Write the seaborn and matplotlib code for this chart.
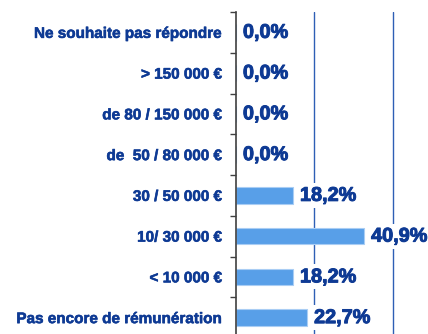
import matplotlib
matplotlib.use("Agg")
import matplotlib.pyplot as plt
import matplotlib.patheffects as pe
from matplotlib.ticker import FixedLocator
from matplotlib.font_manager import FontProperties
import seaborn as sns
import pandas as pd

categories = [
    "Ne souhaite pas répondre",
    "> 150 000 €",
    "de 80 / 150 000 €",
    "de  50 / 80 000 €",
    "30 / 50 000 €",
    "10/ 30 000 €",
    "< 10 000 €",
    "Pas encore de rémunération",
]
values = [0.0, 0.0, 0.0, 0.0, 18.2, 40.9, 18.2, 22.7]
value_labels = ["0,0%", "0,0%", "0,0%", "0,0%", "18,2%", "40,9%", "18,2%", "22,7%"]
grid_values = [25, 50]

TEXT = "#0E3A94"
BAR = "#589FE8"
GRID = "#2E5FB5"

sns.set_theme(style="white")
plt.rcParams["font.family"] = ["Liberation Sans", "DejaVu Sans"]

cat_font = FontProperties(family="Liberation Sans", weight="bold", size=11)
val_font = FontProperties(family="Liberation Sans", weight="bold", size=14.3)
heavy_val = [pe.withStroke(linewidth=0.7, foreground=TEXT)]
heavy_cat = [pe.withStroke(linewidth=0.4, foreground=TEXT)]

df = pd.DataFrame({"cat": categories, "val": values})

fig = plt.figure(figsize=(4.28, 3.34), dpi=100)
ax = fig.add_axes([236 / 428, -4 / 334, (424 - 236) / 428, (338 - 12) / 334])

for g in grid_values:
    ax.axvline(g, color=GRID, lw=1.0, zorder=0)

sns.barplot(data=df, x="val", y="cat", order=categories, color=BAR,
            width=0.4, saturation=1, edgecolor="#A9CDF4", linewidth=0.8,
            ax=ax, zorder=2)

ax.set_xlim(0, 60)
ax.set_ylim(len(categories) - 0.5, -0.5)

for i, (v, lab) in enumerate(zip(values, value_labels)):
    ax.annotate(lab, xy=(v, i), xytext=(5, 0), textcoords="offset points",
                ha="left", va="center", fontproperties=val_font,
                color=TEXT, zorder=3, path_effects=heavy_val,
                bbox=dict(boxstyle="square,pad=0.15", fc="white", ec="none"))

ax.set_xlabel("")
ax.set_ylabel("")
ax.set_xticks([])
ax.tick_params(axis="y", which="major", length=0, pad=10, labelcolor=TEXT)
for t in ax.get_yticklabels():
    t.set_fontproperties(cat_font)
    t.set_path_effects(heavy_cat)
ax.yaxis.set_minor_locator(FixedLocator([i - 0.5 for i in range(len(categories) + 1)]))
ax.tick_params(axis="y", which="minor", left=True, length=4, width=1,
               color="#404040", direction="out")

for s in ["top", "right", "bottom"]:
    ax.spines[s].set_visible(False)
ax.spines["left"].set_color("#404040")
ax.spines["left"].set_linewidth(1.2)

fig.savefig("out.png", dpi=100)
